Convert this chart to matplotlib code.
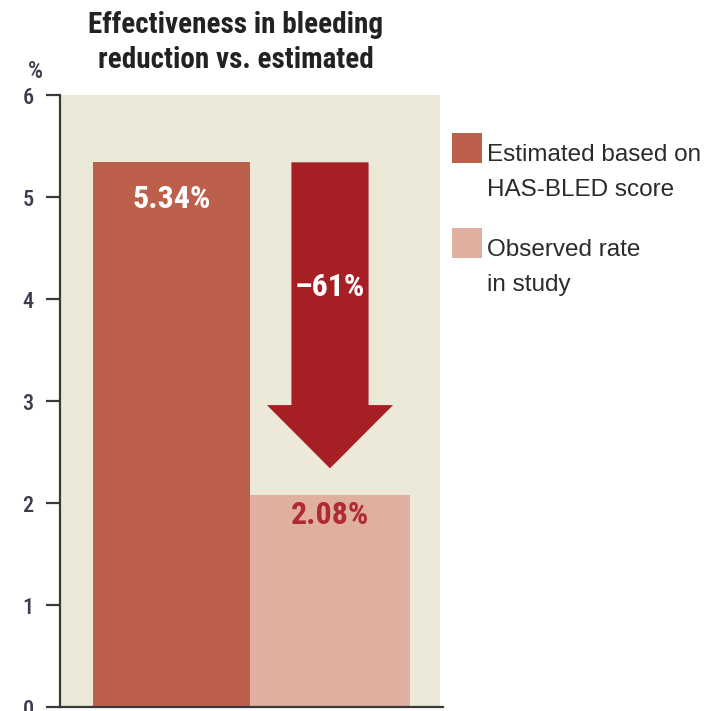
import matplotlib.pyplot as plt
from matplotlib.patches import FancyArrow, Rectangle

# bleeding rates (%)
series = [['Estimated based on', 'HAS-BLED score'], ['Observed rate', 'in study']]
rates = [5.34, 2.08]
bar_labels = ['5.34%', '2.08%']
reduction_label = '–61%'
yticks = [0, 1, 2, 3, 4, 5, 6]
title_lines = ['Effectiveness in bleeding', 'reduction vs. estimated']

bar_colors = ['#bc604c', '#dfb0a0']
arrow_color = '#a61f24'
bg_color = '#ece9d8'
axis_color = '#3a3a3a'

cond = ['Roboto Condensed', 'Liberation Sans Narrow', 'Roboto', 'DejaVu Sans']
plain = ['Liberation Sans', 'DejaVu Sans']

W, H = 716, 711
fig = plt.figure(figsize=(W / 100, H / 100), dpi=100)
ax = fig.add_axes([60 / W, 4 / H, 380 / W, 612 / H])
ax.set_facecolor(bg_color)

xpos = [0.2935, 0.7105]
widths = [0.413, 0.421]
ax.bar(xpos, rates, width=widths, color=bar_colors, edgecolor='none', zorder=2)

ax.set_xlim(0, 1)
ax.set_ylim(0, 6)

# arrow from the estimated level down towards the observed bar
arrow_gap = 0.26
arr = FancyArrow(xpos[1], rates[0], 0, -(rates[0] - rates[1] - arrow_gap),
                 width=0.203, head_width=0.332, head_length=0.62,
                 length_includes_head=True, color=arrow_color, lw=0, zorder=3)
ax.add_patch(arr)

ax.text(xpos[0], rates[0] - 0.36, bar_labels[0], ha='center', va='center',
        color='white', fontsize=23, fontweight='bold', family=cond, zorder=4)
ax.text(xpos[1], rates[1] - 0.2, bar_labels[1], ha='center', va='center',
        color='#b02a35', fontsize=23, fontweight='bold', family=cond, zorder=4)
ax.text(xpos[1], 4.12, reduction_label, ha='center', va='center',
        color='white', fontsize=23, fontweight='bold', family=cond, zorder=4)

for s in ['top', 'right']:
    ax.spines[s].set_visible(False)
for s in ['left', 'bottom']:
    ax.spines[s].set_color(axis_color)
    ax.spines[s].set_linewidth(1.6)
ax.spines['bottom'].set_bounds(0, 1.008)
ax.set_xticks([])
ax.set_yticks(yticks)
ax.tick_params(axis='y', length=10, width=1.6, color=axis_color, pad=9,
               labelsize=16, labelcolor='#3e3a50')
for lbl in ax.get_yticklabels():
    lbl.set_family(cond)
    lbl.set_fontweight(500)

fig.text(35 / W, 1 - 71 / H, '%', ha='center', va='center',
         fontsize=17, fontweight=500, family=cond, color='#3e3a50')
for i, line in enumerate(title_lines):
    fig.text(236 / W, 1 - (33 + 35 * i) / H, line, ha='center', va='baseline',
             fontsize=21, fontweight='bold', family=cond, color='#222222')

# legend: colour square beside the first line of each entry
for j, (lines, c) in enumerate(zip(series, bar_colors)):
    top = 133 + 95 * j
    fig.add_artist(Rectangle((452 / W, 1 - (top + 30) / H), 30 / W, 30 / H,
                             transform=fig.transFigure, facecolor=c, edgecolor='none'))
    for k, line in enumerate(lines):
        fig.text(487 / W, 1 - (top + 28 + 35 * k) / H, line, ha='left', va='baseline',
                 fontsize=17.5, family=plain, color='#2b2b2b')

fig.savefig('out.png', dpi=100)
